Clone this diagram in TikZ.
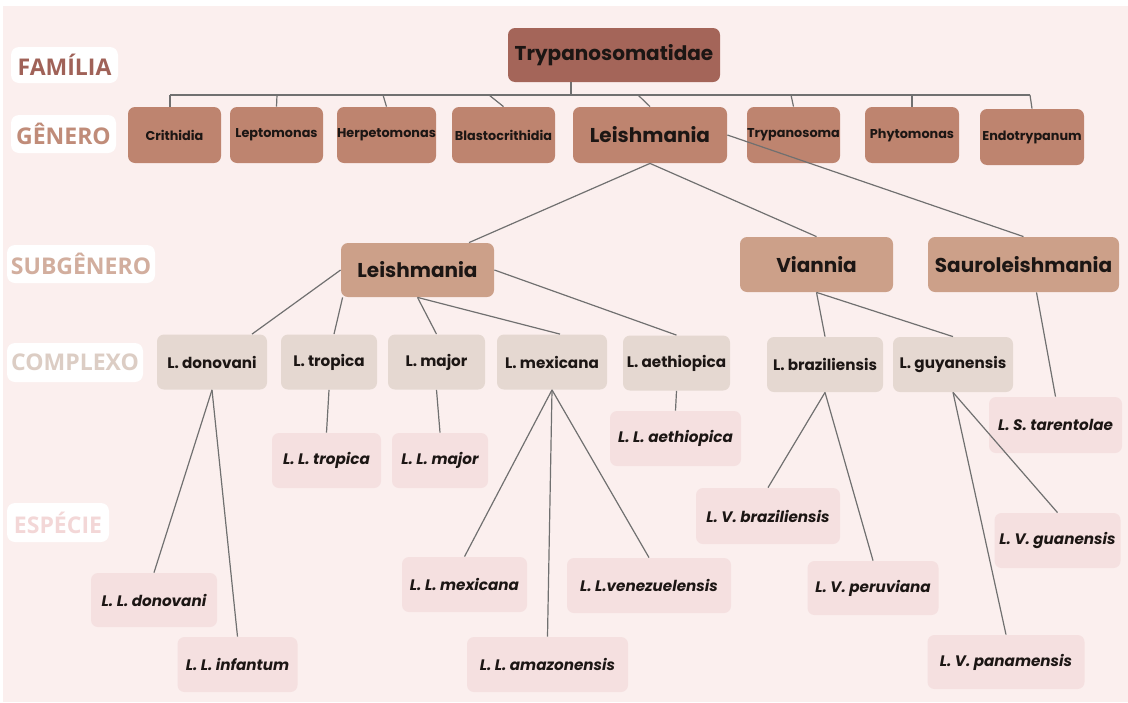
\documentclass[tikz,border=0pt]{standalone}
\usepackage{fontspec}
\setmainfont{Poppins}
\newfontfamily\nivelfont{Open Sans}
\usetikzlibrary{calc}

\definecolor{fundo}{RGB}{251,239,238}
\definecolor{corfam}{RGB}{164,101,89}
\definecolor{corgen}{RGB}{190,132,111}
\definecolor{corsub}{RGB}{204,160,137}
\definecolor{corcom}{RGB}{229,216,209}
\definecolor{coresp}{RGB}{245,224,224}
\definecolor{txtfam}{RGB}{160,98,88}
\definecolor{txtgen}{RGB}{192,140,121}
\definecolor{txtsub}{RGB}{210,174,158}
\definecolor{txtcom}{RGB}{220,205,196}
\definecolor{txtesp}{RGB}{243,215,215}
\definecolor{linha}{RGB}{112,112,112}
\definecolor{tinta}{RGB}{28,22,20}

\begin{document}
\begin{tikzpicture}[x=0.5pt, y=-0.5pt,
		bw/.style={minimum width=#1*0.5pt},
		bh/.style={minimum height=#1*0.5pt},
		caixa/.style={rectangle, rounded corners=3.5pt, inner sep=0pt, text=tinta},
		familia/.style={caixa, fill=corfam, font=\bfseries\fontsize{10}{12}\selectfont},
		genero/.style={caixa, fill=corgen, font=\bfseries\fontsize{6.4}{8}\selectfont},
		subgenero/.style={caixa, fill=corsub, font=\bfseries\fontsize{10}{12}\selectfont},
		complexo/.style={caixa, fill=corcom, font=\bfseries\fontsize{7.6}{9}\selectfont},
		especie/.style={caixa, fill=coresp, font=\bfseries\itshape\fontsize{7.6}{9}\selectfont},
		nivel/.style={rectangle, rounded corners=4pt, fill=white, inner sep=0pt, font=\nivelfont\bfseries\fontsize{11.5}{13}\selectfont},
		ramo/.style={draw=linha, line width=0.6pt}
	]
		\useasboundingbox (0, 0) rectangle (1128, 702);
		\fill[white] (0, 0) rectangle (1128, 702);
		\fill[fundo] (3, 6) rectangle (1128, 702);

		\node[nivel, bw=107, bh=36, text=txtfam] (famL) at (64.5, 65) {FAMÍLIA};
		\node[nivel, bw=105, bh=38, text=txtgen] (genL) at (63.5, 134) {GÊNERO};
		\node[nivel, bw=148, bh=38, text=txtsub] (subL) at (81, 264) {SUBGÊNERO};
		\node[nivel, bw=136, bh=39, text=txtcom] (comL) at (75, 362.5) {COMPLEXO};
		\node[nivel, bw=102, bh=39, text=txtesp] (espL) at (58, 522.5) {ESPÉCIE};

		\node[familia, bw=212, bh=54] (trypa) at (614, 55) {Trypanosomatidae};

		\node[genero, bw=93, bh=56] (crith) at (174.5, 135) {Crithidia};
		\node[genero, bw=93, bh=56] (lepto) at (276.5, 135) {Leptomonas};
		\node[genero, bw=99, bh=56] (herpe) at (386.5, 135) {Herpetomonas};
		\node[genero, bw=103, bh=56] (blast) at (503.5, 135) {Blastocrithidia};
		\node[genero, bw=154, bh=56, font=\bfseries\fontsize{10}{12}\selectfont] (leishG) at (650, 135) {Leishmania};
		\node[genero, bw=93, bh=56] (trypn) at (793.5, 135) {Trypanosoma};
		\node[genero, bw=94, bh=56] (phyto) at (912, 135) {Phytomonas};
		\node[genero, bw=104, bh=56] (endot) at (1032, 137) {Endotrypanum};

		\node[subgenero, bw=153, bh=54] (leishS) at (417.5, 270) {Leishmania};
		\node[subgenero, bw=153, bh=55] (vian) at (816.5, 264.5) {Viannia};
		\node[subgenero, bw=191, bh=55] (sauro) at (1023.5, 264.5) {Sauroleishmania};

		\node[complexo, bw=110, bh=55] (donov) at (212, 362) {L. donovani};
		\node[complexo, bw=96, bh=55] (tropi) at (329, 362) {L. tropica};
		\node[complexo, bw=97, bh=55] (major) at (436.5, 362) {L. major};
		\node[complexo, bw=110, bh=55] (mexic) at (552, 362) {L. mexicana};
		\node[complexo, bw=107, bh=55] (aethi) at (676.5, 363) {L. aethiopica};
		\node[complexo, bw=116, bh=55] (brazi) at (825, 364.5) {L. braziliensis};
		\node[complexo, bw=120, bh=55] (guyan) at (953, 364.5) {L. guyanensis};

		\node[especie, bw=109, bh=55] (tropL) at (326.5, 460.5) {L. L. tropica};
		\node[especie, bw=96, bh=55] (majL) at (440, 460.5) {L. L. major};
		\node[especie, bw=131, bh=55] (aethL) at (675.5, 438.5) {L. L. aethiopica};
		\node[especie, bw=133, bh=56] (taren) at (1055.5, 425) {L. S. tarentolae};
		\node[especie, bw=144, bh=56] (brzL) at (768, 516) {L. V. braziliensis};
		\node[especie, bw=126, bh=55] (guaL) at (1057.5, 540.5) {L. V. guanensis};
		\node[especie, bw=125, bh=55] (mexL) at (464.5, 584.5) {L. L. mexicana};
		\node[especie, bw=164, bh=55] (venL) at (649, 585.5) {L. L.venezuelensis};
		\node[especie, bw=131, bh=54] (perL) at (873, 588) {L. V. peruviana};
		\node[especie, bw=126, bh=54] (donL) at (154, 600) {L. L. donovani};
		\node[especie, bw=120, bh=55] (infL) at (237.5, 664.5) {L. L. infantum};
		\node[especie, bw=161, bh=55] (amaL) at (547.5, 664.5) {L. L. amazonensis};
		\node[especie, bw=157, bh=54] (panL) at (1006, 662) {L. V. panamensis};

		\coordinate (t0) at (571, 95);
		\coordinate (t1) at (170, 95);
		\coordinate (t2) at (277, 95);
		\coordinate (t3) at (383, 95);
		\coordinate (t4) at (489, 95);
		\coordinate (t5) at (638, 95);
		\coordinate (t6) at (791, 95);
		\coordinate (t7) at (912, 95);
		\coordinate (t8) at (1030, 95);

		\draw[ramo] (t1) -- (t8);
		\draw[ramo] (trypa.south -| t0) -- (t0);
		\draw[ramo] (t1) -- (t1 |- crith.north);
		\draw[ramo] (t2) -- (lepto.north);
		\draw[ramo] (t3) -- (herpe.north);
		\draw[ramo] (t4) -- (blast.north);
		\draw[ramo] (t5) -- (leishG.north);
		\draw[ramo] (t6) -- (trypn.north);
		\draw[ramo] (t7) -- (phyto.north);
		\draw[ramo] (t8) -- (endot.north);

		\draw[ramo] (leishG.south) -- ($(leishS.north)+(51.5, 0)$);
		\draw[ramo] (leishG.south) -- (vian.north);
		\draw[ramo] (leishG.east) -- (sauro.north);

		\draw[ramo] (leishS.west) -- ($(donov.north)+(40, 0)$);
		\draw[ramo] ($(leishS.south west)+(2, 0)$) -- ($(tropi.north)+(5, 0)$);
		\draw[ramo] (leishS.south) -- (major.north);
		\draw[ramo] (leishS.south) -- ($(mexic.north)+(8, 0)$);
		\draw[ramo] (leishS.east) -- (aethi.north);
		\draw[ramo] (vian.south) -- (brazi.north);
		\draw[ramo] (vian.south) -- (guyan.north);
		\draw[ramo] ($(sauro.south)+(13, 0)$) -- (taren.north);

		\draw[ramo] (tropi.south) -- (tropL.north);
		\draw[ramo] (major.south) -- (majL.north);
		\draw[ramo] (aethi.south) -- (aethL.north);
		\draw[ramo] (donov.south) -- (donL.north);
		\draw[ramo] (donov.south) -- (infL.north);
		\draw[ramo] (mexic.south) -- (mexL.north);
		\draw[ramo] (mexic.south) -- (amaL.north);
		\draw[ramo] (mexic.south) -- (venL.north);
		\draw[ramo] (brazi.south) -- (brzL.north);
		\draw[ramo] (brazi.south) -- (perL.north);
		\draw[ramo] (guyan.south) -- (guaL.north);
		\draw[ramo] (guyan.south) -- (panL.north);
	\end{tikzpicture}
\end{document}
